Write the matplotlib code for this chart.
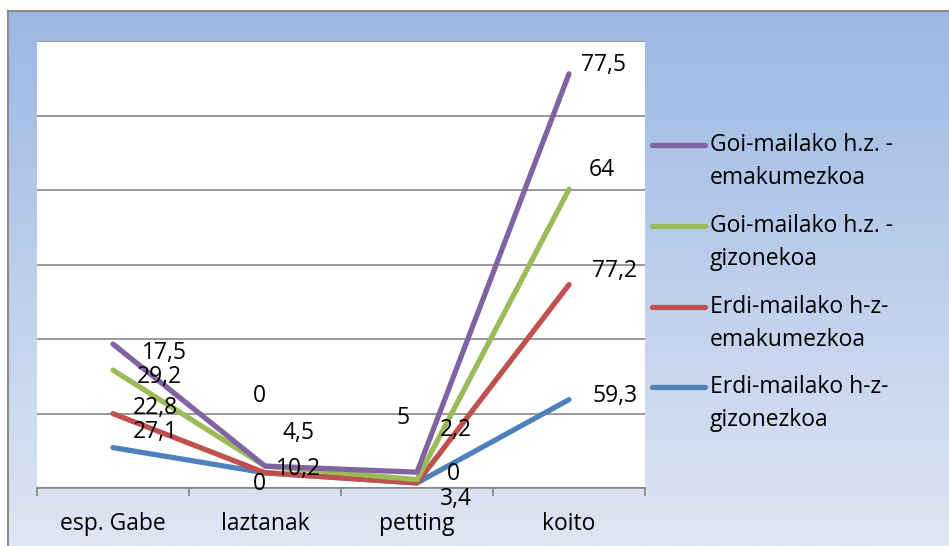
import numpy as np
import matplotlib
matplotlib.use("Agg")
import matplotlib.pyplot as plt
from matplotlib.lines import Line2D
from matplotlib.colors import LinearSegmentedColormap

# Data (stacked line chart, Excel style)
categories = ["esp. Gabe", "laztanak", "petting", "koito"]
series_names = ["Erdi-mailako h-z-\ngizonezkoa", "Erdi-mailako h-z-\nemakumezkoa",
                "Goi-mailako h.z. -\ngizonekoa", "Goi-mailako h.z. -\nemakumezkoa"]
blue_vals = [27.1, 10.2, 3.4, 59.3]
red_vals = [22.8, 0, 0, 77.2]
green_vals = [29.2, 4.5, 2.2, 64]
purple_vals = [17.5, 0, 5, 77.5]
colors = ["#4F81BD", "#C0504D", "#9BBB59", "#8064A2"]

# hand-placed data label offsets (pixels, x right / y down), as in the original
label_offsets = [
    [(42, -16), (33, -4), (39, 16), (46, -4)],     # blue
    [(42, -6), (-6, 11), (36, -9), (46, -14)],     # red
    [(46, 7), (34, -33), (39, -50), (33, -19)],    # green
    [(51, 9), (-6, -70), (-14, -54), (35, -9)],    # purple
]

W, H = 949, 546
FONT = "Open Sans"
FS = 16.5
plt.rcParams["font.family"] = [FONT, "DejaVu Sans"]

fig = plt.figure(figsize=(W / 100, H / 100), dpi=100)
fig.patch.set_facecolor("white")

# gradient background of the chart area
bg = fig.add_axes([8 / W, 0, 1 - 8 / W, 1 - 11 / H], zorder=-2)
cmap = LinearSegmentedColormap.from_list("bg", ["#9CB7E3", "#DFE6F4"])
bg.imshow(np.linspace(0, 1, 256).reshape(-1, 1), aspect="auto", cmap=cmap,
          extent=[0, 1, 0, 1])
bg.set_xlim(0, 1)
bg.set_ylim(0, 1)
bg.axis("off")
fig.add_artist(Line2D([8 / W, 8 / W], [0, 1 - 11 / H], color="#8C8C8C", lw=1.5))
fig.add_artist(Line2D([8 / W, 1], [1 - 11 / H, 1 - 11 / H], color="#8C8C8C", lw=1.5))

left, right, top, bottom = 37, 645, 41, 488
ax = fig.add_axes([left / W, (H - bottom) / H, (right - left) / W, (bottom - top) / H])
ax.set_facecolor("white")

x = np.arange(len(categories))
cum = np.zeros(len(categories))
all_vals = [blue_vals, red_vals, green_vals, purple_vals]
for vals, col, offs in zip(all_vals, colors, label_offsets):
    cum = cum + np.array(vals)
    ax.plot(x, cum, color=col, lw=3.8, solid_capstyle="round", zorder=3)
    for xi, yi, v, (dx, dy) in zip(x, cum, vals, offs):
        ax.annotate(f"{v:g}".replace(".", ","), (xi, yi), xytext=(dx, -dy),
                    textcoords="offset pixels", ha="center", va="center",
                    fontsize=FS, color="black", zorder=4, annotation_clip=False)

ax.set_xlim(-0.5, len(categories) - 0.5)
ax.set_ylim(0, 300)
ax.set_yticks(np.arange(0, 301, 50))
ax.yaxis.grid(True, color="#868686", lw=1.2)
ax.set_axisbelow(True)
ax.tick_params(axis="y", left=False, labelleft=False)
for s in ["left", "right", "top"]:
    ax.spines[s].set_visible(False)
ax.spines["bottom"].set_color("#868686")
ax.spines["bottom"].set_linewidth(1.2)

ax.set_xticks(x)
ax.set_xticklabels(categories, fontsize=FS)
ax.set_xticks(np.arange(-0.5, len(categories)), minor=True)
ax.tick_params(axis="x", which="major", length=0, pad=17)
ax.tick_params(axis="x", which="minor", length=6, width=1.2, color="#868686",
               direction="out")

# legend drawn by hand (handles aligned with the first text line)
leg_y = [145, 226, 307, 387]
for name, col, ly in zip(series_names[::-1], colors[::-1], leg_y):
    fig.add_artist(Line2D([652 / W, 705 / W], [1 - ly / H, 1 - ly / H], color=col,
                          lw=3.8, solid_capstyle="round"))
    for k, line in enumerate(name.split("\n")):
        fig.text(710 / W, 1 - (ly + 33 * k) / H, line, ha="left", va="center",
                 fontsize=FS, color="black")

fig.savefig("out.png", dpi=100)
